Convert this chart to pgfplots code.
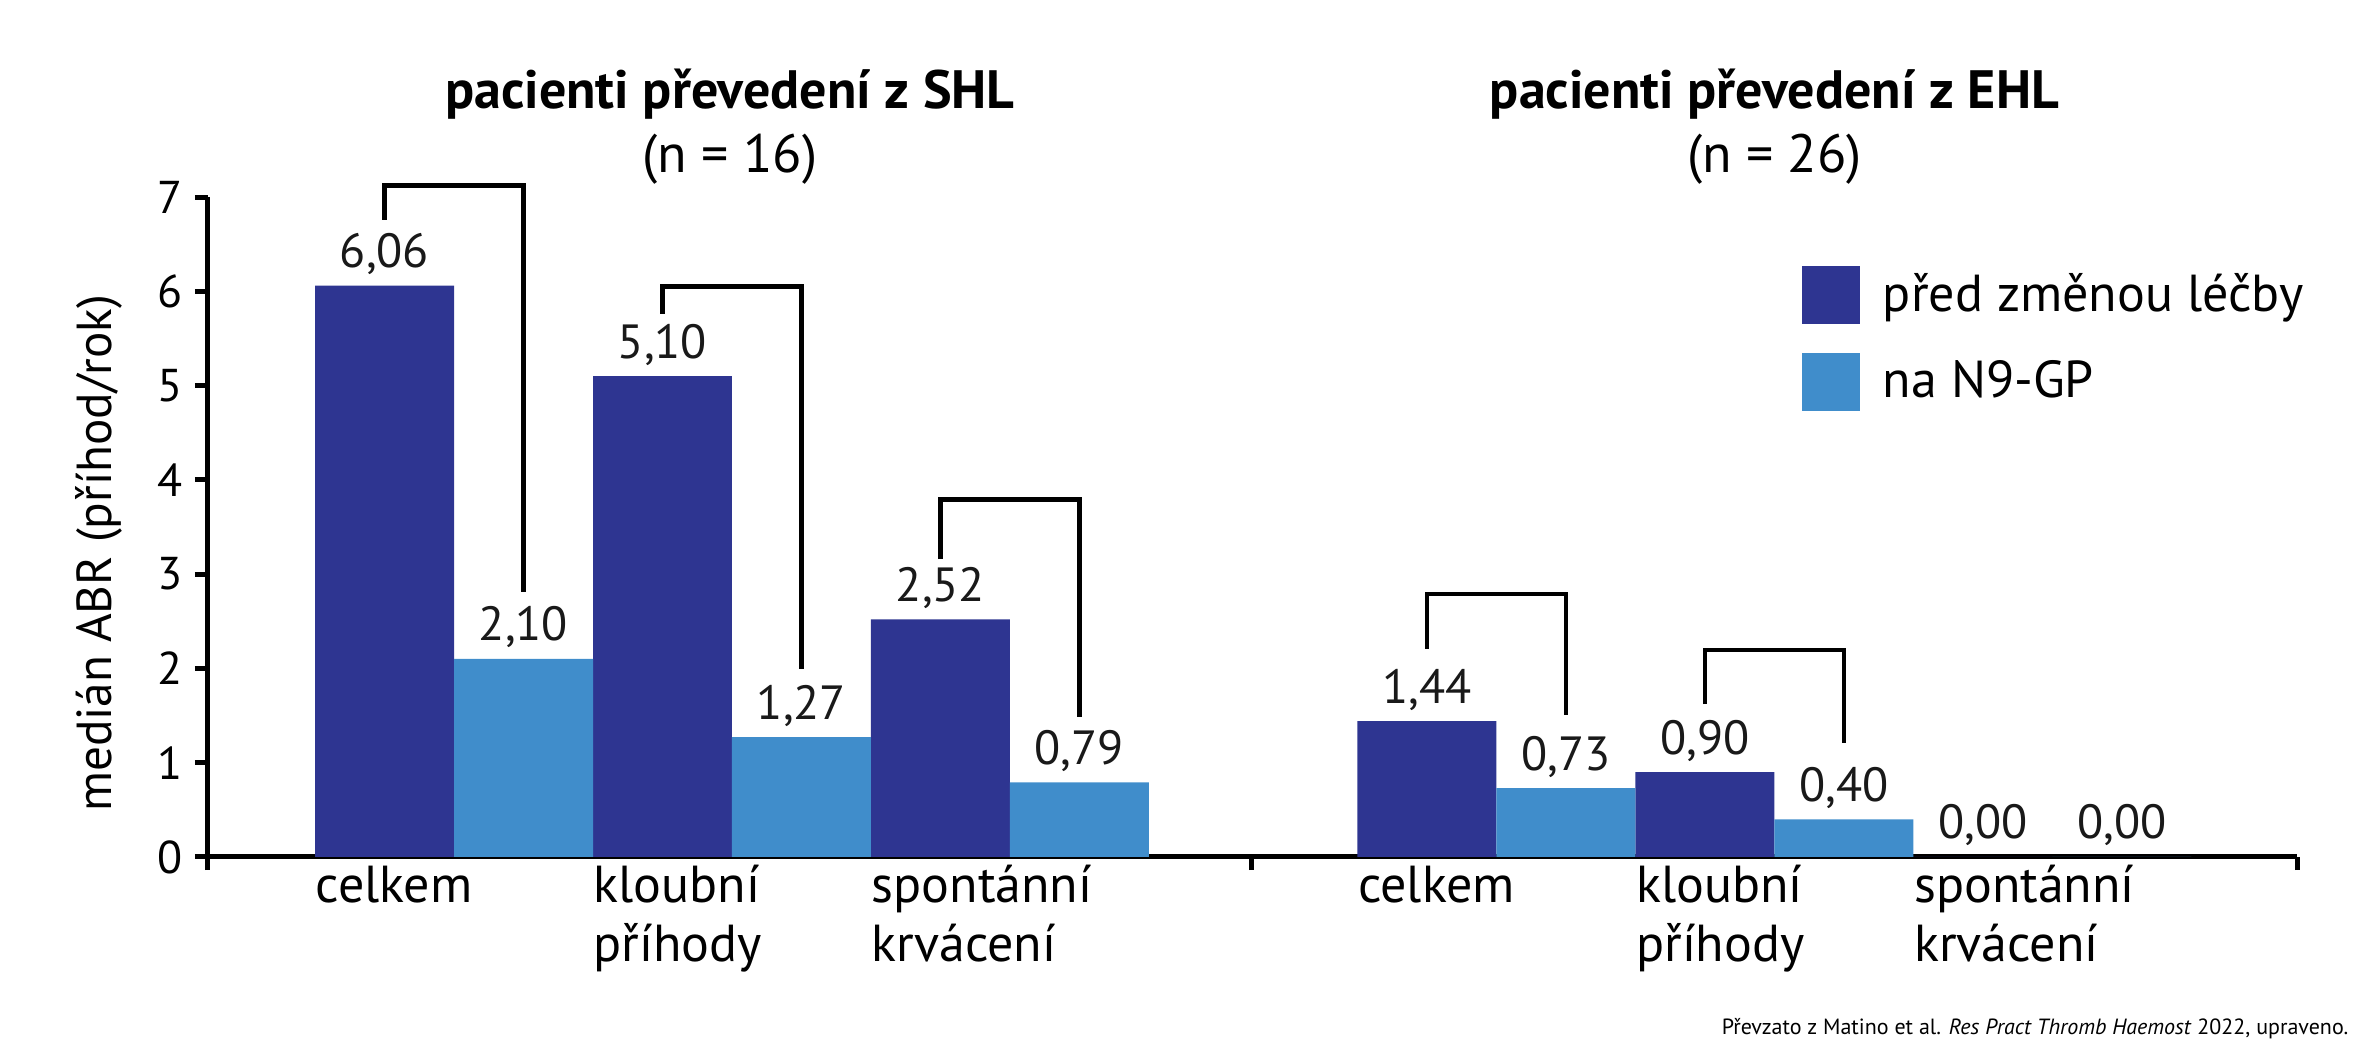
\documentclass[border=0pt]{standalone}
\usepackage{fontspec}
\setmainfont{PT Sans}
\usepackage{pgfplots}
\usepackage{pgfplotstable}
\pgfplotsset{compat=1.18}
\definecolor{dblue}{RGB}{46,53,145}
\definecolor{lblue}{RGB}{64,141,203}

\pgfplotstableread{
x y label
1.27 6.06 6,06
3.27 5.10 5,10
5.27 2.52 2,52
8.77 1.44 1,44
10.77 0.90 0,90
12.77 0.00 0,00
}\before
\pgfplotstableread{
x y label
2.27 2.10 2,10
4.27 1.27 1,27
6.27 0.79 0,79
9.77 0.73 0,73
11.77 0.40 0,40
13.77 0.00 0,00
}\after

\begin{document}
\begin{tikzpicture}
\path[use as bounding box] (-52pt,-46.75pt) rectangle (538.5pt,214.25pt);
\begin{axis}[
  at={(0pt,0pt)}, anchor=south west,
  scale only axis, width=522.25pt, height=165pt,
  xmin=0, xmax=15.03, ymin=0, ymax=7,
  axis x line*=bottom, axis y line*=left,
  axis line style={line width=1.25pt, black},
  every tick/.style={line width=1.25pt, black},
  tick align=outside, major tick length=3.3pt,
  xtick={0,7.51,15.03}, xticklabels={,,},
  extra x ticks={0.77,2.77,4.77,8.27,10.27,12.27},
  extra x tick labels={{celkem\\\mbox{}},{kloubní\\příhody},{spontánní\\krvácení},{celkem\\\mbox{}},{kloubní\\příhody},{spontánní\\krvácení}},
  extra x tick style={major tick length=0pt,
    xticklabel style={anchor=base west, align=left, inner sep=0pt, yshift=-26.2pt,
      font=\fontsize{13}{14.75}\selectfont}},
  ytick={0,1,...,7},
  /pgf/number format/assume math mode=true,
  yticklabel style={font=\fontsize{11.5}{13}\selectfont, inner sep=0pt, anchor=east, xshift=-2.8pt},
  ylabel={medián ABR (příhod/rok)},
  ylabel style={at={(axis description cs:-0.04596,0.46)}, anchor=base, font=\fontsize{12.3}{14}\selectfont},
  clip=false,
  bar width=1,
  nodes near coords,
  point meta=explicit symbolic,
  every node near coord/.append style={anchor=base, yshift=4.5pt, inner sep=0pt, font=\fontsize{12}{14}\selectfont, text=black!90},
  legend image code/.code={\fill[#1] (0pt,-7.25pt) rectangle (14.5pt,7.25pt);},
  legend cell align=left,
  legend style={at={(0.763,0.8955)}, anchor=north west, draw=none, fill=none,
    inner sep=0pt, outer sep=0pt, row sep=7.25pt, column sep=5.75pt,
    font=\fontsize{13}{15}\selectfont, nodes={inner sep=0pt}},
]
\addplot[ybar, bar shift=0pt, fill=dblue, draw=none] table[x=x, y=y, meta=label] {\before};
\addlegendentry{před změnou léčby}
\addplot[ybar, bar shift=0pt, fill=lblue, draw=none] table[x=x, y=y, meta=label] {\after};
\addlegendentry{na N9-GP}

\addplot[forget plot, sharp plot, black, line width=1.1pt, nodes near coords=] coordinates {(1.27,6.76) (1.27,7.12) (2.27,7.12) (2.27,2.81)};
\addplot[forget plot, sharp plot, black, line width=1.1pt, nodes near coords=] coordinates {(3.27,5.76) (3.27,6.05) (4.27,6.05) (4.27,1.99)};
\addplot[forget plot, sharp plot, black, line width=1.1pt, nodes near coords=] coordinates {(5.27,3.16) (5.27,3.79) (6.27,3.79) (6.27,1.49)};
\addplot[forget plot, sharp plot, black, line width=1.1pt, nodes near coords=] coordinates {(8.77,2.21) (8.77,2.79) (9.77,2.79) (9.77,1.51)};
\addplot[forget plot, sharp plot, black, line width=1.1pt, nodes near coords=] coordinates {(10.77,1.62) (10.77,2.195) (11.77,2.195) (11.77,1.21)};

\node[anchor=base, font=\bfseries\fontsize{13.5}{15}\selectfont, inner sep=0pt] at (axis cs:3.755,7.94) {pacienti převedení z SHL};
\node[anchor=base, font=\fontsize{13.5}{15}\selectfont, inner sep=0pt] at (axis cs:3.755,7.265) {(n = 16)};
\node[anchor=base, font=\bfseries\fontsize{13.5}{15}\selectfont, inner sep=0pt] at (axis cs:11.27,7.94) {pacienti převedení z EHL};
\node[anchor=base, font=\fontsize{13.5}{15}\selectfont, inner sep=0pt] at (axis cs:11.27,7.265) {(n = 26)};
\end{axis}
\node[anchor=base east, font=\fontsize{5.5}{6.5}\selectfont, inner sep=0pt] at (535.25pt,-44.5pt) {Převzato z Matino et al. \textit{Res Pract Thromb Haemost} 2022, upraveno.};
\end{tikzpicture}
\end{document}
